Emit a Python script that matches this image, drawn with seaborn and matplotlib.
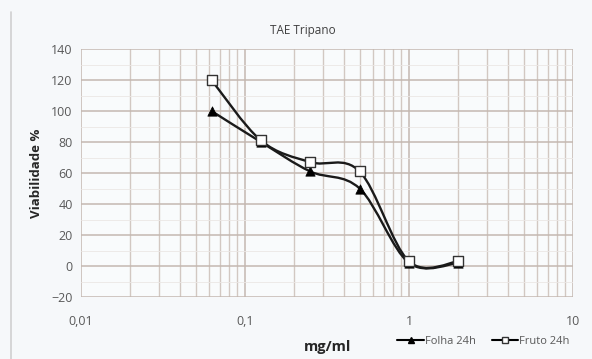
import numpy as np
import pandas as pd
import matplotlib
matplotlib.use("Agg")
import matplotlib.pyplot as plt
import seaborn as sns
from matplotlib.path import Path
from matplotlib.patches import PathPatch
from matplotlib.lines import Line2D
from matplotlib.ticker import FixedLocator, LogLocator, FuncFormatter, NullFormatter

# Values
conc = [0.0625, 0.125, 0.25, 0.5, 1, 2]
folha = [100, 80, 61, 50, 2, 2]
fruto = [120, 81, 67, 61, 3, 3]
series_names = ["Folha 24h", "Fruto 24h"]
y_ticks = [-20, 0, 20, 40, 60, 80, 100, 120, 140]
x_ticks = [0.01, 0.1, 1, 10]
x_tick_labels = ["0,01", "0,1", "1", "10"]

df = pd.concat([
    pd.DataFrame({"conc": conc, "viab": folha, "serie": series_names[0]}),
    pd.DataFrame({"conc": conc, "viab": fruto, "serie": series_names[1]}),
])

sns.set_theme(style="white")
plt.rcParams["font.family"] = ["Open Sans", "DejaVu Sans"]

fig = plt.figure(figsize=(5.92, 3.59), dpi=100, facecolor="#f6f8fa")
ax = fig.add_axes([0.1368, 0.1727, 0.8311, 0.6908])
ax.set_facecolor("#f9fbfc")
ax.set_xscale("log")
ax.set_xlim(0.01, 10)
ax.set_ylim(-20, 140)

# grid
ax.xaxis.set_major_locator(FixedLocator(x_ticks))
ax.xaxis.set_minor_locator(LogLocator(base=10, subs=np.arange(2, 10)))
ax.xaxis.set_minor_formatter(NullFormatter())
ax.xaxis.set_major_formatter(FuncFormatter(lambda v, p: x_tick_labels[x_ticks.index(v)] if v in x_ticks else ""))
ax.set_yticks(y_ticks)
ax.set_yticks(np.arange(-10, 140, 20), minor=True)
ax.grid(which="major", color="#c4b8b1", linewidth=1.1)
ax.grid(which="minor", axis="x", color="#d2c8c2", linewidth=1.0)
ax.grid(which="minor", axis="y", color="#ebe7e5", linewidth=0.6)
ax.set_axisbelow(True)
for s in ax.spines.values():
    s.set_visible(False)
ax.tick_params(axis="both", which="both", length=0, colors="#595959", labelsize=9)
ax.tick_params(axis="x", pad=13)
ax.tick_params(axis="y", pad=6)


# smoothed connecting lines (Excel-style bezier through the points)
def smooth_path(xs, ys):
    lx = np.log10(xs)
    pts = np.column_stack([lx, np.asarray(ys, float)])
    n = len(pts)
    verts = [pts[0]]
    codes = [Path.MOVETO]
    for i in range(n - 1):
        p0 = pts[i - 1] if i > 0 else pts[i]
        p1, p2 = pts[i], pts[i + 1]
        p3 = pts[i + 2] if i + 2 < n else pts[i + 1]
        c1 = p1 + (p2 - p0) / 6
        c2 = p2 - (p3 - p1) / 6
        verts += [c1, c2, p2]
        codes += [Path.CURVE4] * 3
    verts = np.array(verts)
    verts[:, 0] = 10 ** verts[:, 0]
    return Path(verts, codes)


for vals in (folha, fruto):
    ax.add_patch(PathPatch(smooth_path(conc, vals), facecolor="none",
                           edgecolor="#1a1a1a", linewidth=1.7, zorder=3))

sns.scatterplot(data=df[df.serie == series_names[0]], x="conc", y="viab", marker="^",
                s=45, color="black", edgecolor="black", ax=ax, zorder=4, legend=False)
sns.scatterplot(data=df[df.serie == series_names[1]], x="conc", y="viab", marker="s",
                s=50, facecolor="white", edgecolor="#333333", linewidth=1.0, ax=ax,
                zorder=5, legend=False)

ax.set_xlabel("")
ax.set_ylabel("Viabilidade %", fontsize=9.5, fontweight="bold", color="#262626", labelpad=6)
fig.text(0.553, 0.022, "mg/ml", fontsize=10.5, fontweight="bold", color="#262626", ha="center")
fig.text(0.512, 0.905, "TAE Tripano", fontsize=8.5, color="#404040", ha="center")

handles = [
    Line2D([], [], color="black", linewidth=1.5, marker="^", markersize=5,
           markerfacecolor="black"),
    Line2D([], [], color="black", linewidth=1.5, marker="s", markersize=5,
           markerfacecolor="white", markeredgecolor="#333333"),
]
fig.legend(handles, series_names, loc="center", bbox_to_anchor=(0.817, 0.05), ncol=2,
           frameon=False, fontsize=8, handlelength=2.4, handletextpad=0.1,
           columnspacing=1.4, labelcolor="#595959")

fig.add_artist(Line2D([0.019, 0.019], [0.0, 0.967], color="#d0d0d0", linewidth=1.2))

fig.savefig("out.png", dpi=100, facecolor=fig.get_facecolor())
